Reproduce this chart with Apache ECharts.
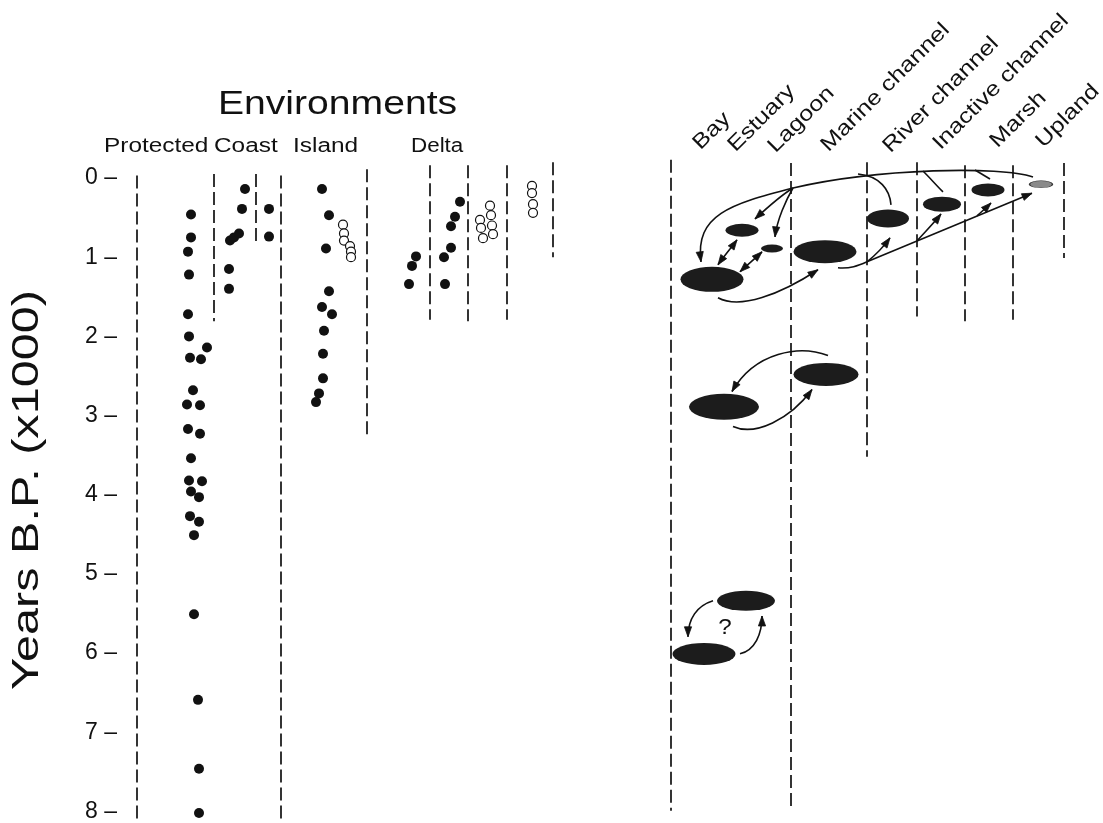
<!DOCTYPE html>
<html><head><meta charset="utf-8">
<script src="https://cdn.jsdelivr.net/npm/echarts@6/dist/echarts.min.js"></script>
<style>html,body{margin:0;padding:0;background:#fff}#c{width:1103px;height:823px}</style>
</head><body><div id="c"></div>
<script>
// ---------- tick labels ----------
const ageTicks = [0, 1, 2, 3, 4, 5, 6, 7, 8];

// ---------- left panel: dated samples (horizontal position, age kyr B.P.) ----------
const protectedX   = [191,191,188,189,188,189,207,190,201,193,187,200,188,200,191,189,202,191,199,190,199,194,194,198,199,199];
const protectedAge = [0.46,0.75,0.93,1.22,1.72,2.00,2.14,2.27,2.29,2.68,2.86,2.87,3.17,3.23,3.54,3.82,3.83,3.96,4.03,4.27,4.34,4.51,5.51,6.59,7.46,8.02];
const coastX   = [245,242,230,234,239,229,229,269,269];
const coastAge = [0.14,0.39,0.79,0.75,0.70,1.15,1.40,0.39,0.74];
const islandX   = [322,329,326,329,322,332,324,323,323,319,316];
const islandAge = [0.14,0.47,0.89,1.43,1.63,1.72,1.93,2.22,2.53,2.72,2.83];
const islandOpenX   = [343,344,344,350,351,351];
const islandOpenAge = [0.59,0.70,0.79,0.86,0.93,1.00];
const deltaX   = [416,412,409,460,455,451,451,444,445];
const deltaAge = [0.99,1.11,1.34,0.30,0.49,0.61,0.88,1.00,1.34];
const deltaOpenX   = [490,491,480,492,481,493,483,532,532,533,533];
const deltaOpenAge = [0.35,0.47,0.53,0.60,0.63,0.71,0.76,0.10,0.19,0.33,0.44];

// ---------- column dividers (x, top age, bottom age) ----------
const dividerX      = [137,214,256,281,367,430,468,507,553, 671,791,867,917,965,1013,1064];
const dividerTop    = [-0.03,-0.05,-0.05,-0.03,-0.11,-0.16,-0.16,-0.16,-0.20, -0.23,-0.19,-0.20,-0.20,-0.16,-0.16,-0.19];
const dividerBottom = [8.13,1.81,0.82,8.13,3.26,1.79,1.81,1.79,1.00, 7.99,7.99,3.52,1.75,1.81,1.79,1.01];

// ---------- right panel: environment stages ----------
const stageNames = ['Bay','Estuary','Lagoon','Marine channel','River channel','Inactive channel','Marsh','Upland','Bay','Marine channel','Bay','Bay'];
const stageX   = [712,742,772,825,888,942,988,1041,724,826,746,704];
const stageAge = [1.28,0.66,0.89,0.93,0.51,0.33,0.15,0.08,2.89,2.48,5.34,6.01];
const stageW   = [63,33,22,63,42,38,33,23,70,65,58,63];
const stageH   = [25,13,8,23,18,15,13,7,26,23,20,22];

// ---------- transitions: start, control1, control2, end (x, age), heads 0/1/2 ----------
const transitions = [
  [1033,-0.013, 1000,-0.151, 880,-0.126, 793,0.126, 0],
  [793,0.126, 730,0.328, 695,0.466, 701,1.058, 1],
  [793,0.126, 780,0.227, 768,0.365, 755,0.517, 1],
  [793,0.126, 786,0.277, 777,0.529, 775,0.743, 1],
  [718,1.096, 724,0.987, 731,0.886, 737,0.781, 2],
  [740,1.184, 747,1.100, 755,1.016, 762,0.932, 2],
  [718,1.512, 740,1.663, 780,1.474, 818,1.159, 1],
  [838,1.134, 850,1.147, 858,1.109, 867,1.058, 0],
  [867,1.058, 922,0.770, 977,0.481, 1032,0.192, 1],
  [867,1.058, 877,0.960, 884,0.860, 890,0.756, 1],
  [917,0.794, 925,0.680, 934,0.567, 941,0.454, 1],
  [977,0.479, 982,0.420, 987,0.365, 991,0.315, 1],
  [858,-0.050, 880,-0.025, 890,0.151, 891,0.340, 0],
  [923,-0.088, 930,0.000, 936,0.088, 943,0.176, 0],
  [975,-0.101, 980,-0.063, 985,-0.025, 990,0.013, 0],
  [828,2.243, 800,2.104, 755,2.192, 732,2.696, 1],
  [733,3.137, 755,3.263, 790,3.049, 812,2.671, 1],
  [713,5.338, 697,5.400, 688,5.567, 688,5.794, 1],
  [740,6.009, 755,5.960, 762,5.760, 762,5.531, 1]
];

const zip = (xs, ys) => xs.map((x, i) => [x, ys[i]]);
const INK = '#111111';

function arrowHead(tip, from) {
  let dx = tip[0] - from[0], dy = tip[1] - from[1];
  const L = Math.hypot(dx, dy) || 1; dx /= L; dy /= L;
  const len = 10, w = 3.6;
  const bx = tip[0] - dx * len, by = tip[1] - dy * len;
  return { type: 'polygon', shape: { points: [tip, [bx - dy * w, by + dx * w], [bx + dy * w, by - dx * w]] },
           style: { fill: INK, stroke: INK, lineWidth: 0.8 } };
}

const chart = echarts.init(document.getElementById('c'), null, { renderer: 'canvas' });
const labelFont = '"Liberation Sans", Arial, sans-serif';

function rotLabel(text, sx, sy) {
  const off = 3.5;
  return { type: 'text', x: sx - off, y: sy - off, rotation: Math.PI / 4, scaleX: 1.2, scaleY: 1,
    style: { text: text, font: '21px ' + labelFont, fill: INK, textAlign: 'left', textVerticalAlign: 'middle' } };
}

const dotStyle = { color: INK, opacity: 1 };
const openStyle = { color: '#fff', borderColor: INK, borderWidth: 1.2, opacity: 1 };

const option = {
  animation: false,
  backgroundColor: '#fff',
  grid: { left: 125, right: 0, top: 178, bottom: 10 },
  xAxis: { type: 'value', min: 125, max: 1103, show: false },
  yAxis: {
    type: 'value', min: ageTicks[0], max: ageTicks[ageTicks.length - 1], interval: 1, inverse: true,
    axisLine: { show: false }, axisTick: { show: false }, splitLine: { show: false },
    axisLabel: { formatter: v => v + ' \u2013', fontSize: 23, color: INK, fontFamily: labelFont, margin: 8 }
  },
  graphic: [
    { type: 'text', x: 28, y: 490, rotation: Math.PI / 2, scaleX: 1.35,
      style: { text: 'Years B.P. (x1000)', font: '36px ' + labelFont, fill: INK, textAlign: 'center', textVerticalAlign: 'middle' } },
    { type: 'text', x: 218, y: 105, scaleX: 1.15,
      style: { text: 'Environments', font: '34px ' + labelFont, fill: INK, textAlign: 'left', textVerticalAlign: 'middle' } },
    { type: 'text', x: 104, y: 146, scaleX: 1.22, style: { text: 'Protected', font: '20px ' + labelFont, fill: INK, textAlign: 'left', textVerticalAlign: 'middle' } },
    { type: 'text', x: 214, y: 146, scaleX: 1.22, style: { text: 'Coast', font: '20px ' + labelFont, fill: INK, textAlign: 'left', textVerticalAlign: 'middle' } },
    { type: 'text', x: 293, y: 146, scaleX: 1.22, style: { text: 'Island', font: '20px ' + labelFont, fill: INK, textAlign: 'left', textVerticalAlign: 'middle' } },
    { type: 'text', x: 411, y: 146, scaleX: 1.12, style: { text: 'Delta', font: '20px ' + labelFont, fill: INK, textAlign: 'left', textVerticalAlign: 'middle' } },
    rotLabel('Bay', 700, 150),
    rotLabel('Estuary', 735, 152),
    rotLabel('Lagoon', 775, 153),
    rotLabel('Marine channel', 828, 152),
    rotLabel('River channel', 890, 153),
    rotLabel('Inactive channel', 940, 150),
    rotLabel('Marsh', 997, 148),
    rotLabel('Upland', 1043, 148),
    { type: 'text', x: 725, y: 628, scaleX: 1.1, style: { text: '?', font: '22px ' + labelFont, fill: INK, textAlign: 'center', textVerticalAlign: 'middle' } }
  ],
  series: [
    {
      type: 'custom', name: 'dividers', silent: true, z: 1,
      encode: { x: 0, y: [1, 2] },
      data: dividerX.map((x, i) => [x, dividerTop[i], dividerBottom[i]]),
      renderItem: (params, api) => {
        const a = api.coord([api.value(0), api.value(1)]);
        const b = api.coord([api.value(0), api.value(2)]);
        return { type: 'line', shape: { x1: a[0], y1: a[1], x2: b[0], y2: b[1] },
                 style: { stroke: INK, lineWidth: 1.7, lineDash: [13, 5] } };
      }
    },
    {
      type: 'custom', name: 'transitions', silent: true, z: 3,
      encode: { x: [0, 2, 4, 6], y: [1, 3, 5, 7] },
      data: transitions,
      renderItem: (params, api) => {
        const p0 = api.coord([api.value(0), api.value(1)]);
        const c1 = api.coord([api.value(2), api.value(3)]);
        const c2 = api.coord([api.value(4), api.value(5)]);
        const p1 = api.coord([api.value(6), api.value(7)]);
        const heads = api.value(8);
        const children = [{ type: 'bezierCurve',
          shape: { x1: p0[0], y1: p0[1], cpx1: c1[0], cpy1: c1[1], cpx2: c2[0], cpy2: c2[1], x2: p1[0], y2: p1[1] },
          style: { stroke: INK, lineWidth: 1.6, fill: null } }];
        if (heads >= 1) children.push(arrowHead(p1, c2));
        if (heads >= 2) children.push(arrowHead(p0, c1));
        return { type: 'group', children: children };
      }
    },
    {
      type: 'scatter', name: 'stages', silent: true, z: 4, clip: false,
      data: stageX.map((x, i) => ({ name: stageNames[i], value: [x, stageAge[i]], symbolSize: [stageW[i], stageH[i]],
        itemStyle: i === 7 ? { color: '#8a8a8a', borderColor: '#333', borderWidth: 0.8, opacity: 1 } : { color: '#1c1c1c', opacity: 1 } })),
      symbol: 'circle'
    },
    { type: 'scatter', name: 'Protected', silent: true, z: 5, clip: false, symbol: 'circle', symbolSize: 10,
      itemStyle: dotStyle, data: zip(protectedX, protectedAge) },
    { type: 'scatter', name: 'Coast', silent: true, z: 5, clip: false, symbol: 'circle', symbolSize: 10,
      itemStyle: dotStyle, data: zip(coastX, coastAge) },
    { type: 'scatter', name: 'Island', silent: true, z: 5, clip: false, symbol: 'circle', symbolSize: 10,
      itemStyle: dotStyle, data: zip(islandX, islandAge) },
    { type: 'scatter', name: 'Island (open)', silent: true, z: 5, clip: false, symbol: 'circle', symbolSize: 9,
      itemStyle: openStyle, data: zip(islandOpenX, islandOpenAge) },
    { type: 'scatter', name: 'Delta', silent: true, z: 5, clip: false, symbol: 'circle', symbolSize: 10,
      itemStyle: dotStyle, data: zip(deltaX, deltaAge) },
    { type: 'scatter', name: 'Delta (open)', silent: true, z: 5, clip: false, symbol: 'circle', symbolSize: 9,
      itemStyle: openStyle, data: zip(deltaOpenX, deltaOpenAge) }
  ]
};
chart.setOption(option);
</script></body></html>
